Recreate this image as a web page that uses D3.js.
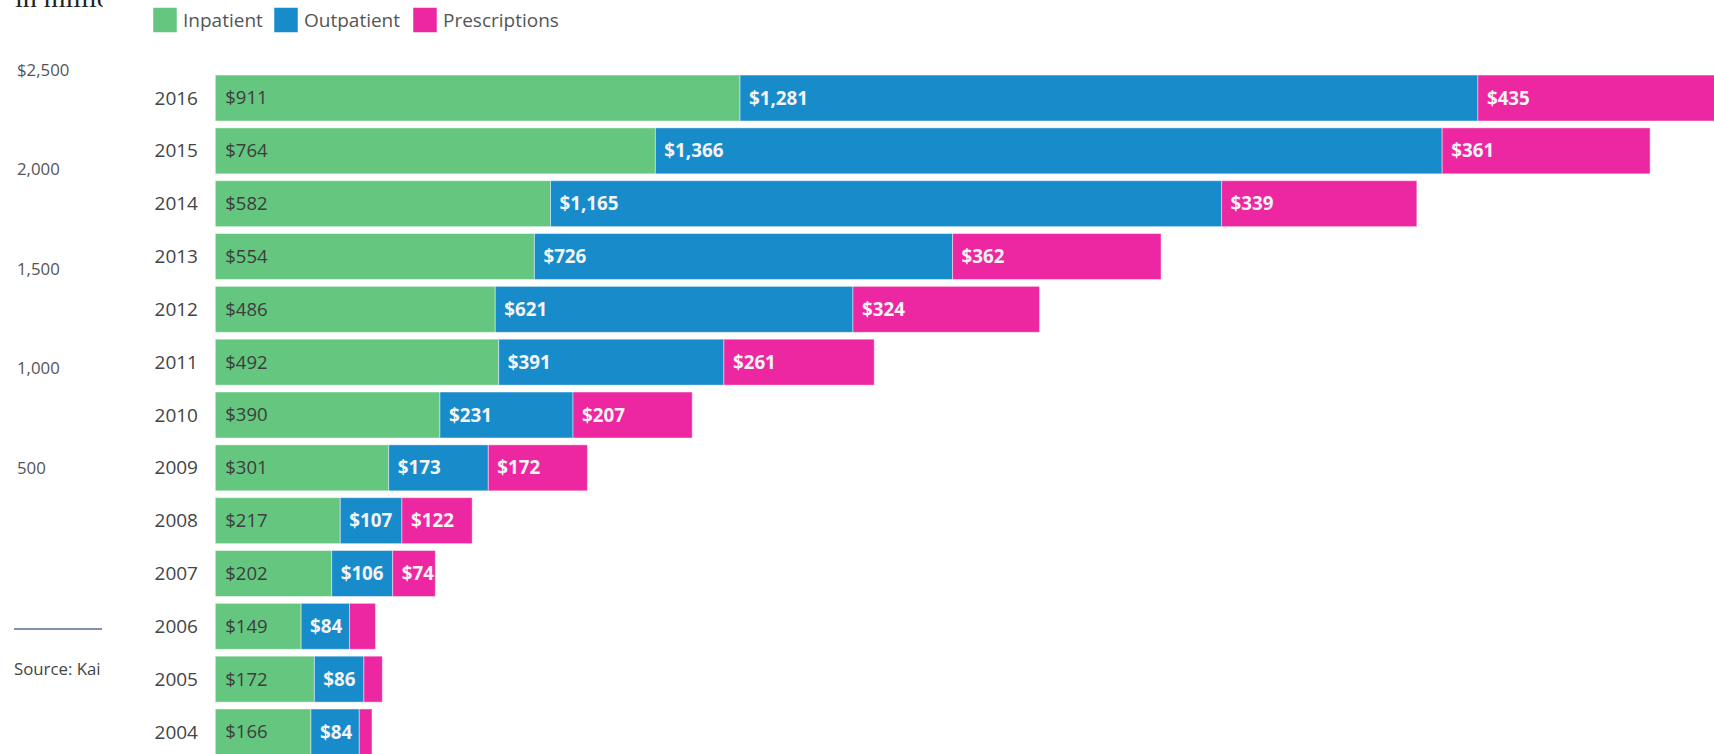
<!DOCTYPE html>
<html>
<head>
<meta charset="utf-8">
<script src="https://cdn.jsdelivr.net/npm/d3@7"></script>
<style>
  html, body { margin: 0; padding: 0; background: #fff; }
  svg { display: block; font-family: "Open Sans", "Noto Sans", sans-serif; }
</style>
</head>
<body>
<svg id="chart" width="1714" height="754"></svg>
<script>
// Health spending by service type, in millions of dollars
const years = ["2016","2015","2014","2013","2012","2011","2010","2009","2008","2007","2006","2005","2004"];
const inpatient     = [911, 764, 582, 554, 486, 492, 390, 301, 217, 202, 149, 172, 166];
const outpatient    = [1281, 1366, 1165, 726, 621, 391, 231, 173, 107, 106, 84, 86, 84];
const prescriptions = [435, 361, 339, 362, 324, 261, 207, 172, 122, 74, 45, 32, 22];

const seriesNames  = ["Inpatient", "Outpatient", "Prescriptions"];
const seriesColors = ["#64c67f", "#188bcb", "#ec27a1"];
const axisTicks    = [500, 1000, 1500, 2000, 2500];

const svg = d3.select("#chart");

// table used by d3.stack
const rows = years.map((y, i) => ({
  year: y,
  Inpatient: inpatient[i],
  Outpatient: outpatient[i],
  Prescriptions: prescriptions[i]
}));
const stacked = d3.stack().keys(seriesNames)(rows);

const x = d3.scaleLinear().domain([0, 2500]).range([215.3, 1655.3]);
const y = d3.scaleBand().domain(years).range([71.6, 758.4]).paddingInner(0.13).paddingOuter(0.065);
const color = d3.scaleOrdinal().domain(seriesNames).range(seriesColors);

// ---- side panel (clipped column on the left) ----
svg.append("defs").append("clipPath").attr("id", "sideClip")
  .append("rect").attr("x", 0).attr("y", 0).attr("width", 103).attr("height", 754);

const side = svg.append("g").attr("clip-path", "url(#sideClip)");

side.append("text")
  .attr("x", 15).attr("y", 7)
  .style("font-family", "'Liberation Serif', 'DejaVu Serif', serif")
  .style("font-size", "28px")
  .attr("fill", "#222")
  .text("in millions");

const sideScale = d3.scaleLinear().domain([0, 2500]).range([567.5, 70]);
const sideAxis = side.append("g")
  .attr("transform", "translate(17,0)")
  .call(d3.axisRight(sideScale)
    .tickValues(axisTicks)
    .tickSize(0).tickPadding(0)
    .tickFormat(d => (d === 2500 ? "$" : "") + d3.format(",")(d)));
sideAxis.select(".domain").remove();
sideAxis.selectAll("text")
  .attr("fill", "#555")
  .style("font-size", "16.8px")
  .style("font-family", "'Open Sans', sans-serif");

side.append("line")
  .attr("x1", 14).attr("x2", 102).attr("y1", 629).attr("y2", 629)
  .attr("stroke", "#5a6c96").attr("stroke-width", 1.5);

side.append("text")
  .attr("x", 14).attr("y", 669)
  .attr("dy", "0.35em")
  .attr("fill", "#444")
  .style("font-size", "16.8px")
  .text("Source: Kai");

// ---- legend: swatch positions across the header ----
const legendX = d3.scaleOrdinal().domain(seriesNames).range([153, 274, 413]);
const legend = svg.append("g");
seriesNames.forEach(name => {
  const g = legend.append("g").attr("transform", `translate(${legendX(name)},7.5)`);
  g.append("rect")
    .attr("width", 24).attr("height", 25)
    .attr("fill", color(name))
    .attr("stroke", "rgba(255,255,255,0.5)");
  g.append("text")
    .attr("x", 30).attr("y", 12.5).attr("dy", "0.35em")
    .attr("fill", "#555")
    .style("font-size", "19px")
    .text(name);
});

// ---- year labels ----
svg.append("g").selectAll("text")
  .data(years)
  .join("text")
  .attr("x", 198)
  .attr("y", d => y(d) + y.bandwidth() / 2)
  .attr("dy", "0.35em")
  .attr("text-anchor", "end")
  .attr("fill", "#444")
  .style("font-size", "19px")
  .text(d => d);

// ---- stacked bars ----
const fmt = v => "$" + d3.format(",")(v);
const defs = svg.select("defs");

const layers = svg.append("g").selectAll("g")
  .data(stacked)
  .join("g")
  .attr("fill", d => color(d.key));

layers.selectAll("rect")
  .data(d => d)
  .join("rect")
  .attr("x", d => x(d[0]))
  .attr("y", d => y(d.data.year))
  .attr("width", d => x(d[1]) - x(d[0]))
  .attr("height", y.bandwidth())
  .attr("stroke", "rgba(255,255,255,0.45)")
  .attr("stroke-width", 1);

// value labels, clipped to their own segment
stacked.forEach((layer, li) => {
  layer.forEach((d, i) => {
    const w = x(d[1]) - x(d[0]);
    if (w < 35) return;
    const id = `seg-${li}-${i}`;
    defs.append("clipPath").attr("id", id)
      .append("rect")
      .attr("x", x(d[0])).attr("y", y(d.data.year))
      .attr("width", w).attr("height", y.bandwidth());
    svg.append("text")
      .attr("clip-path", `url(#${id})`)
      .attr("x", x(d[0]) + (li === 0 ? 10 : 9))
      .attr("y", y(d.data.year) + y.bandwidth() / 2)
      .attr("dy", "0.35em")
      .attr("fill", li === 0 ? "#3d3d3d" : "#f4f4f4")
      .style("font-weight", li === 0 ? 400 : 700)
      .style("font-size", li === 0 ? "18.5px" : "18.8px")
      .text(fmt(d[1] - d[0]));
  });
});
</script>
</body>
</html>
